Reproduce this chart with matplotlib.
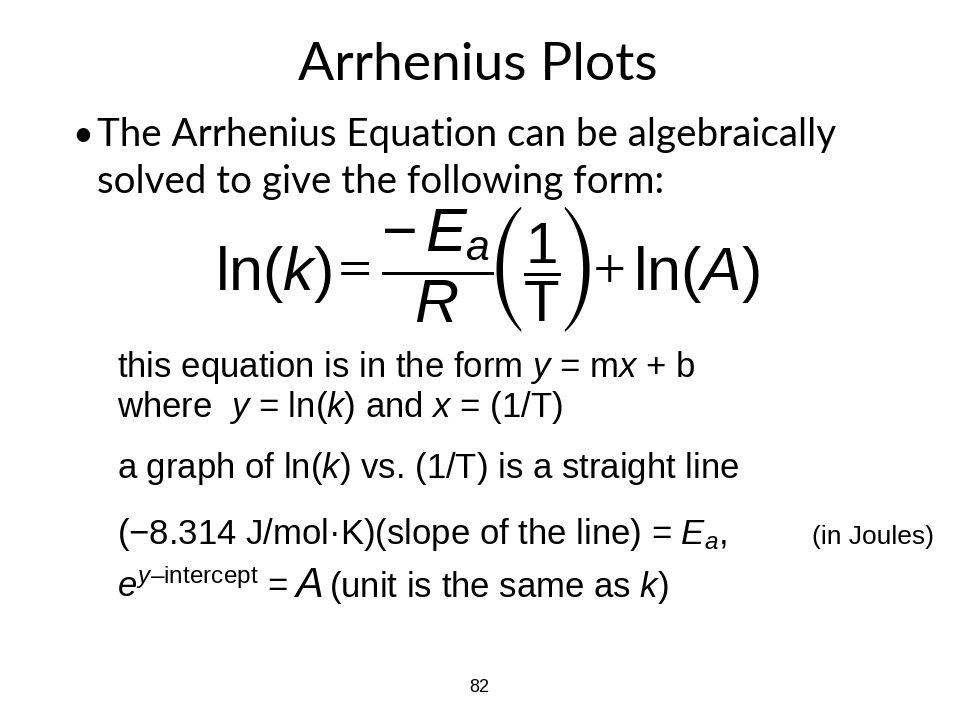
import matplotlib
matplotlib.use("Agg")
import matplotlib.pyplot as plt

plt.rcParams['mathtext.fontset'] = 'custom'
plt.rcParams['mathtext.rm'] = 'Liberation Sans'
plt.rcParams['mathtext.it'] = 'Liberation Sans:italic'
plt.rcParams['mathtext.bf'] = 'Liberation Sans:bold'

title = "Arrhenius Plots"
bullet_lines = ["The Arrhenius Equation can be algebraically",
                "solved to give the following form:"]
# equation pieces: ln(k) = (-Ea/R)(1/T) + ln(A)
eq_lhs = r"$\ln(\mathit{k})$"
eq_frac1 = r"$\dfrac{-\,\mathit{E}_{\mathit{a}}}{\mathit{R}}$"
eq_frac2 = r"$\dfrac{1}{\mathrm{T}}$"
eq_rhs = r"$\ln(\mathit{A})$"
body_lines = [
    r"this equation is in the form $\mathit{y}$ = m$\mathit{x}$ + b",
    r"where  $\mathit{y}$ = ln($\mathit{k}$) and $\mathit{x}$ = (1/T)",
    r"a graph of ln($\mathit{k}$) vs. (1/T) is a straight line",
]
slope_line = r"(−8.314 J/mol·K)(slope of the line) = $\mathit{E}_{\mathit{a}}$,"
slope_note = "(in Joules)"
intercept_parts = [r"$\mathit{e}^{\mathit{y}\mathrm{–intercept}}$ =",
                   r"$\mathit{A}$",
                   r"(unit is the same as $\mathit{k}$)"]
page_number = "82"

fig = plt.figure(figsize=(9.6, 7.2), dpi=100)
ax = fig.add_axes([0, 0, 1, 1])
ax.set_xlim(0, 960)
ax.set_ylim(720, 0)
ax.axis('off')

# title and bullet
ax.text(478, 80, title, fontsize=38.5, family='Lato', ha='center', va='baseline')
ax.text(72, 135, "•", fontsize=26, family='Lato', ha='left', va='center')
ax.text(97, 135, bullet_lines[0], fontsize=27.7, family='Lato', ha='left', va='center')
ax.text(97, 182, bullet_lines[1], fontsize=27.7, family='Lato', ha='left', va='center')

# equation
eq_base = 290
ax.text(215, eq_base, eq_lhs, fontsize=44, ha='left', va='baseline')
ax.text(355, 281, "=", fontsize=34, family='STIXGeneral', ha='center', va='baseline')
ax.text(437, eq_base, eq_frac1, fontsize=44, ha='center', va='baseline')
ax.text(507, 269, "(", fontsize=49, family='STIXSizeTwoSym', ha='center', va='center')
ax.text(542, eq_base, eq_frac2, fontsize=42, ha='center', va='baseline')
ax.text(577, 269, ")", fontsize=49, family='STIXSizeTwoSym', ha='center', va='center')
ax.text(610, 280, "+", fontsize=33, family='STIXGeneral', ha='center', va='baseline')
ax.text(633, eq_base, eq_rhs, fontsize=44, ha='left', va='baseline')

# explanation lines
body_base = [377, 417, 478]
for y, line in zip(body_base, body_lines):
    ax.text(117, y, line, fontsize=25, family='Liberation Sans', ha='left', va='baseline')

ax.text(117, 544, slope_line, fontsize=25, family='Liberation Sans', ha='left', va='baseline')
ax.text(812, 544, slope_note, fontsize=19, family='Liberation Sans', ha='left', va='baseline')

ax.text(117, 597, intercept_parts[0], fontsize=25, family='Liberation Sans', ha='left', va='baseline')
ax.text(293, 597, intercept_parts[1], fontsize=30, family='Liberation Sans', ha='left', va='baseline')
ax.text(329, 597, intercept_parts[2], fontsize=25, family='Liberation Sans', ha='left', va='baseline')

ax.text(479, 692, page_number, fontsize=13, family='Liberation Sans', ha='center', va='baseline')

fig.savefig("out.png", dpi=100)
